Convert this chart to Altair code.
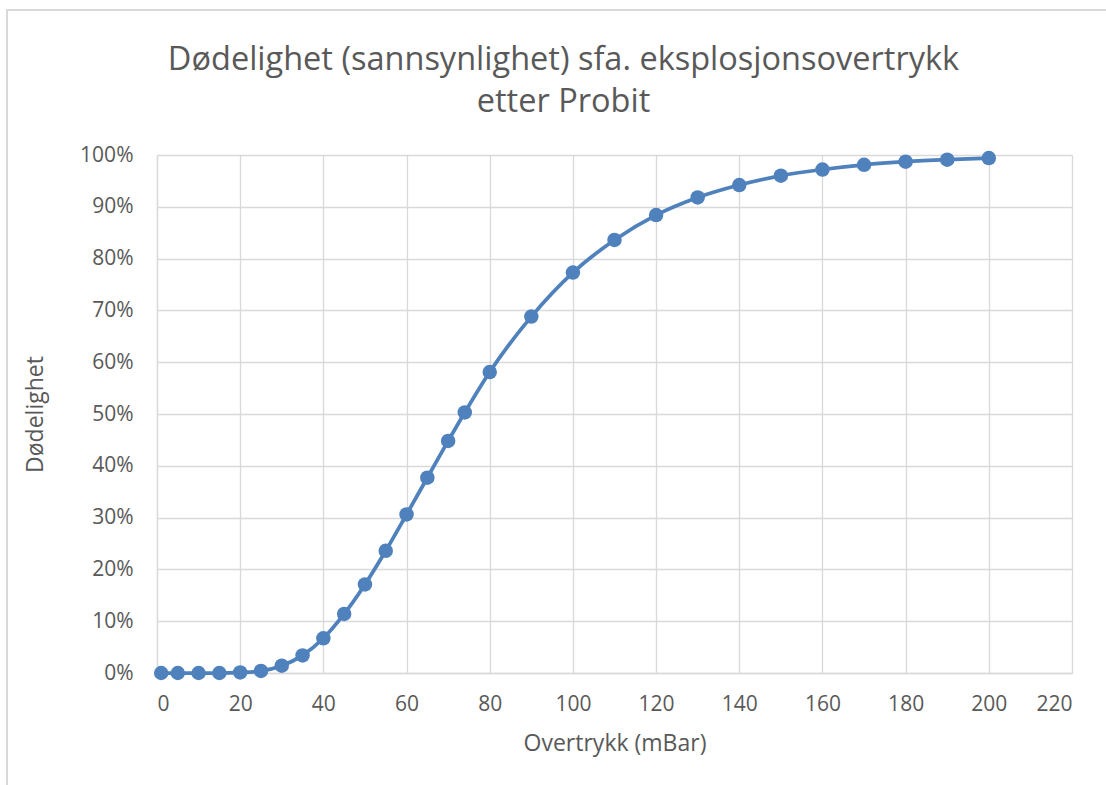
import altair as alt
import pandas as pd

overtrykk = [1, 5, 10, 15, 20, 25, 30, 35, 40, 45, 50, 55, 60, 65, 70, 74,
             80, 90, 100, 110, 120, 130, 140, 150, 160, 170, 180, 190, 200]
dodelighet_pct = [0.0, 0.0, 0.0, 0.0, 0.1, 0.4, 1.4, 3.4, 6.7, 11.4, 17.1, 23.6,
                  30.6, 37.7, 44.8, 50.3, 58.1, 68.8, 77.3, 83.6, 88.4, 91.8,
                  94.2, 96.0, 97.2, 98.1, 98.7, 99.1, 99.4]

df = pd.DataFrame({"x": overtrykk, "y": [v / 100 for v in dodelighet_pct]})

FONT = "Open Sans"
TEXT = "#595959"
GRID = "#d9d9d9"
BLUE = "#4F81BD"

W, H = 915, 518
PAD_L, PAD_T = 157, 155

xs = alt.Scale(domain=[0, 220], nice=False)
ys = alt.Scale(domain=[0, 1], nice=False)

xenc = alt.X("x:Q", scale=xs,
             axis=alt.Axis(values=list(range(0, 221, 20)), title="Overtrykk (mBar)",
                           grid=True, gridColor=GRID, gridWidth=1.3,
                           domainColor=GRID, domainWidth=1.3, ticks=False,
                           labelFont=FONT, labelFontSize=21, labelColor=TEXT, labelPadding=20,
                           titleFont=FONT, titleFontSize=23, titleColor=TEXT,
                           titleFontWeight="normal", titlePadding=18))
yenc = alt.Y("y:Q", scale=ys,
             axis=alt.Axis(values=[i / 10 for i in range(11)], format=".0%", title="Dødelighet",
                           grid=True, gridColor=GRID, gridWidth=1.3,
                           domainColor=GRID, domainWidth=1.3, ticks=False,
                           labelFont=FONT, labelFontSize=21, labelColor=TEXT, labelPadding=24,
                           titleFont=FONT, titleFontSize=23, titleColor=TEXT,
                           titleFontWeight="normal", titlePadding=32))

border = alt.Chart(pd.DataFrame({"a": [0]})).mark_rect(
    fill="white", fillOpacity=0, stroke=GRID, strokeWidth=2, clip=False
).encode(x=alt.value(-150), x2=alt.value(W + 200), y=alt.value(-145), y2=alt.value(H + 200))

line = alt.Chart(df).mark_line(color=BLUE, strokeWidth=3.75, interpolate="monotone").encode(
    x=xenc, y=yenc)
pts = alt.Chart(df).mark_circle(color=BLUE, opacity=1, size=210).encode(x="x:Q", y="y:Q")

chart = alt.layer(border, line, pts).properties(
    width=W, height=H,
    autosize=alt.AutoSizeParams(type="none"),
    padding={"left": PAD_L, "top": PAD_T, "right": 1106 - PAD_L - W, "bottom": 785 - PAD_T - H},
    title=alt.TitleParams(
        ["Dødelighet (sannsynlighet) sfa. eksplosjonsovertrykk", "etter Probit"],
        font=FONT, fontSize=32.5, fontWeight="normal", color=TEXT, anchor="middle",
        dx=-51, offset=0, dy=109, lineHeight=42),
).configure_view(stroke=None)

chart.save("out.html", embed_options={"renderer": "svg", "actions": False})
